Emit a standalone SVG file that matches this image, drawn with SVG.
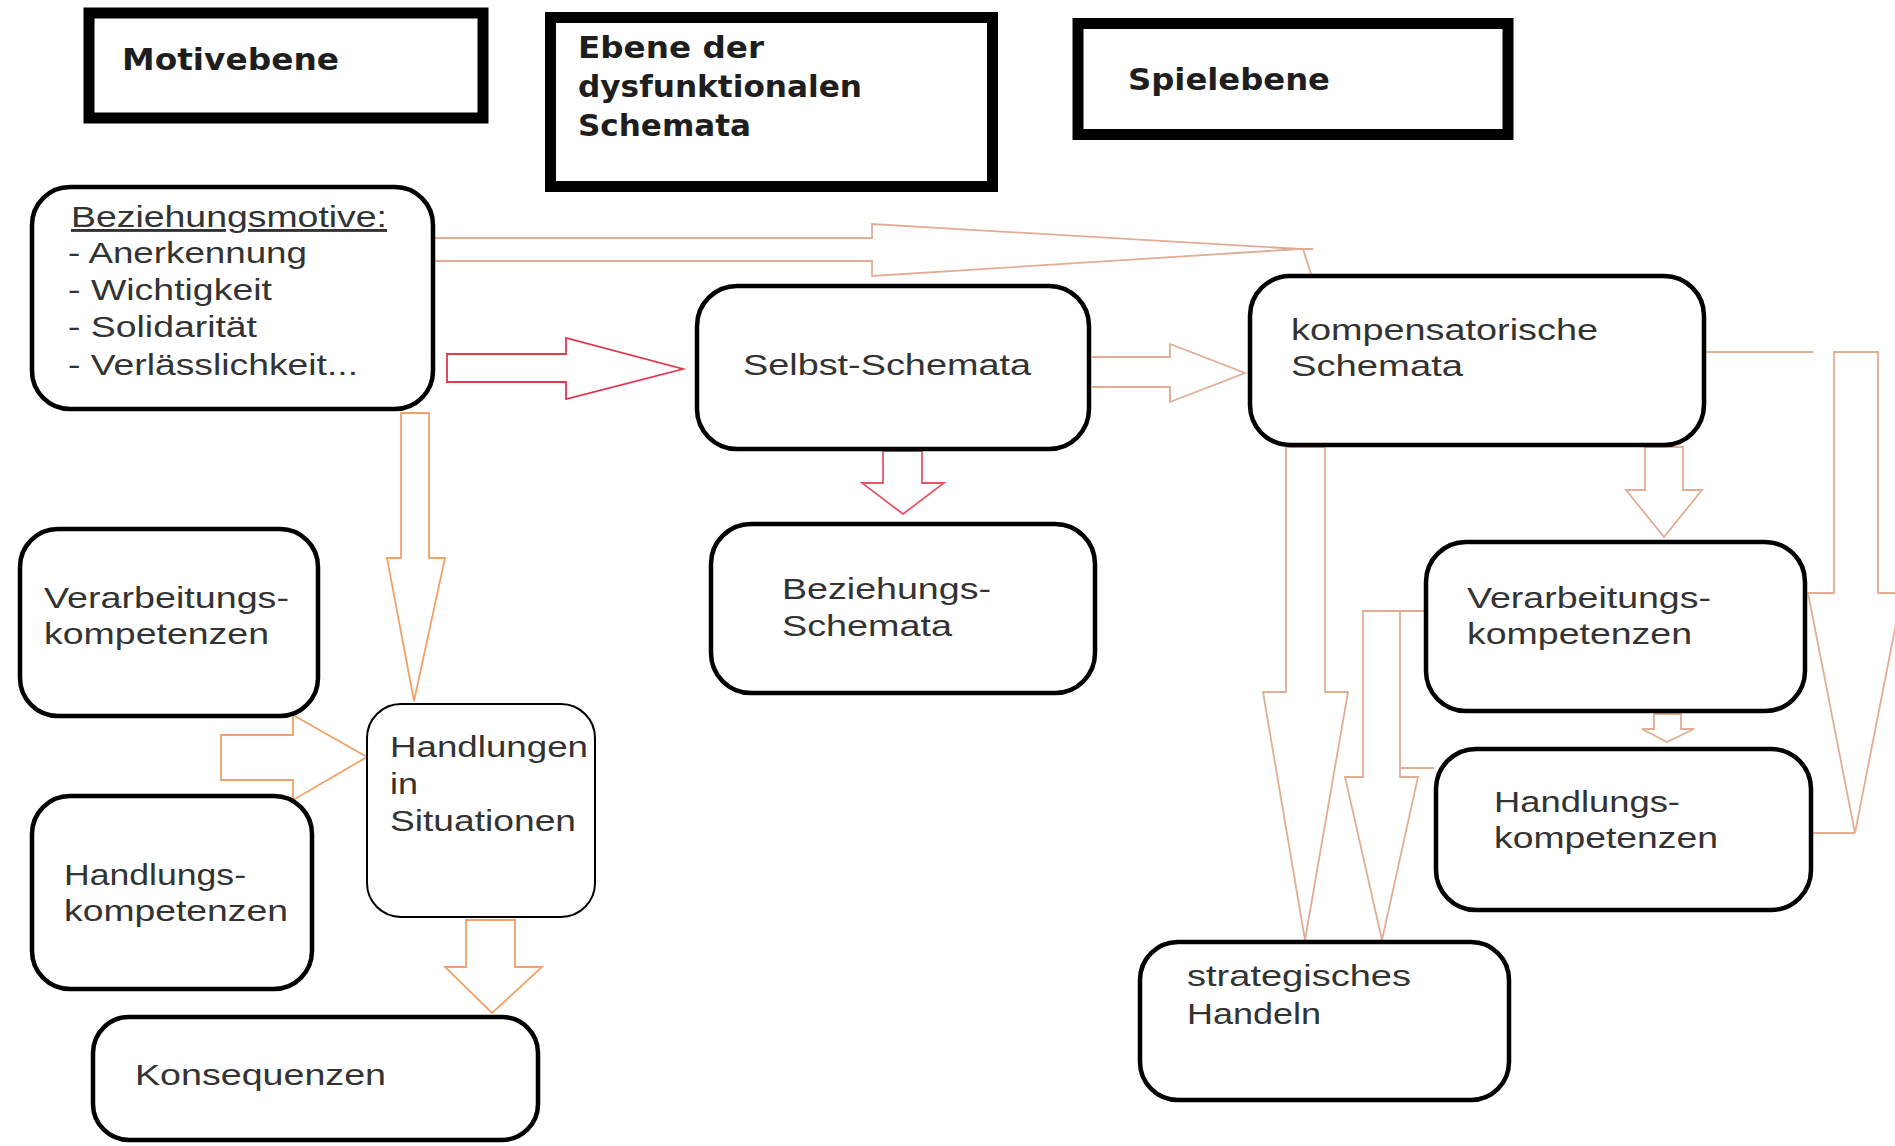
<svg xmlns="http://www.w3.org/2000/svg" width="1895" height="1146" viewBox="0 0 1895 1146">
<style>
.hdr{fill:#fff;stroke:#000;stroke-width:11}
.hdt{font-family:"DejaVu Sans",Verdana,sans-serif;font-weight:bold;font-size:30px;fill:#1e1e1e}
.box{fill:#fff;stroke:#000;stroke-width:4.5}
.thin{fill:#fff;stroke:#000;stroke-width:2}
.t{font-family:"Liberation Sans",Arial,sans-serif;font-size:29px;fill:#333}
.pe{fill:none;stroke:#e3ad93;stroke-width:1.8;stroke-linejoin:miter}
.or{fill:none;stroke:#f2a268;stroke-width:1.8}
.rd{fill:none;stroke:#e0384f;stroke-width:1.8}
.pk{fill:none;stroke:#e4566a;stroke-width:1.8}
</style>
<rect width="1895" height="1146" fill="#fff"/>

<g id="connectors">
  <path class="pe" d="M435,238 L872,238 L872,224 L1300,249 L872,276 L872,261 L435,261"/>
  <path class="pe" d="M1282,249 L1313,249 M1303,249 L1311,274"/>
  <polygon class="rd" points="566,354 447,354 447,382 566,382 566,399 683,369 566,338"/>
  <path class="pe" d="M1092,357 L1170,357 L1170,344 L1245,373 L1170,402 L1170,387 L1092,387"/>
  <polygon class="pk" points="883,451 883,483 862,483 903,514 944,483 922,483 922,451"/>
  <polygon class="or" points="401,413 401,558 387,558 414,701 445,558 429,558 429,413"/>
  <polygon class="or" points="221,735 293,735 293,715 367,757 293,800 293,780 221,780"/>
  <polygon class="or" points="466,920 466,967 445,967 492,1013 542,967 515,967 515,920"/>
  <polygon class="pe" points="1645,447 1645,490 1626,490 1664,537 1702,490 1683,490 1683,447"/>
  <polygon class="pe" points="1654,714 1654,729 1642,729 1667,742 1694,729 1681,729 1681,714"/>
  <polygon class="pe" points="1286,447 1286,692 1263,692 1305,940 1348,692 1325,692 1325,447"/>
  <path class="pe" d="M1425,611 L1363,611 L1363,777 L1345,777 L1382,940 L1418,777 L1400,777 L1400,611 M1400,768 L1434,768"/>
  <path class="pe" d="M1706,352 L1813,352"/>
  <polygon class="pe" points="1834,352 1834,593 1808,593 1855,833 1902,593 1878,593 1878,352"/>
  <path class="pe" d="M1813,833 L1855,833"/>
</g>

<g id="motivebene">
  <rect class="hdr" x="89" y="13" width="394" height="105"/>
  <text class="hdt" x="122" y="70" textLength="217" lengthAdjust="spacingAndGlyphs">Motivebene</text>
</g>
<g id="ebene-dysfunktional">
  <rect class="hdr" x="550.5" y="17.5" width="442" height="169"/>
  <text class="hdt" x="578" y="58" textLength="186" lengthAdjust="spacingAndGlyphs">Ebene der</text>
  <text class="hdt" x="578" y="97" textLength="284" lengthAdjust="spacingAndGlyphs">dysfunktionalen</text>
  <text class="hdt" x="578" y="136" textLength="173" lengthAdjust="spacingAndGlyphs">Schemata</text>
</g>
<g id="spielebene">
  <rect class="hdr" x="1078" y="23.5" width="430" height="111"/>
  <text class="hdt" x="1128" y="90" textLength="202" lengthAdjust="spacingAndGlyphs">Spielebene</text>
</g>

<g id="beziehungsmotive">
  <rect class="box" x="32" y="187" width="401" height="222" rx="38"/>
  <text class="t" x="71" y="227" textLength="316" lengthAdjust="spacingAndGlyphs" text-decoration="underline">Beziehungsmotive:</text>
  <text class="t" x="68" y="263" textLength="239" lengthAdjust="spacingAndGlyphs">- Anerkennung</text>
  <text class="t" x="68" y="300" textLength="204" lengthAdjust="spacingAndGlyphs">- Wichtigkeit</text>
  <text class="t" x="68" y="337" textLength="189" lengthAdjust="spacingAndGlyphs">- Solidarität</text>
  <text class="t" x="68" y="375" textLength="290" lengthAdjust="spacingAndGlyphs">- Verlässlichkeit...</text>
</g>
<g id="selbst-schemata">
  <rect class="box" x="697" y="286" width="392" height="163" rx="40"/>
  <text class="t" x="743" y="375" textLength="288" lengthAdjust="spacingAndGlyphs">Selbst-Schemata</text>
</g>
<g id="kompensatorische-schemata">
  <rect class="box" x="1250" y="276" width="454" height="169" rx="40"/>
  <text class="t" x="1291" y="340" textLength="307" lengthAdjust="spacingAndGlyphs">kompensatorische</text>
  <text class="t" x="1291" y="376" textLength="172" lengthAdjust="spacingAndGlyphs">Schemata</text>
</g>
<g id="beziehungs-schemata">
  <rect class="box" x="711" y="524" width="384" height="169" rx="40"/>
  <text class="t" x="782" y="599" textLength="209" lengthAdjust="spacingAndGlyphs">Beziehungs-</text>
  <text class="t" x="782" y="636" textLength="170" lengthAdjust="spacingAndGlyphs">Schemata</text>
</g>
<g id="verarbeitung-links">
  <rect class="box" x="20" y="529" width="298" height="187" rx="38"/>
  <text class="t" x="44" y="608" textLength="245" lengthAdjust="spacingAndGlyphs">Verarbeitungs-</text>
  <text class="t" x="44" y="644" textLength="225" lengthAdjust="spacingAndGlyphs">kompetenzen</text>
</g>
<g id="handlung-links">
  <rect class="box" x="32" y="796" width="280" height="193" rx="38"/>
  <text class="t" x="64" y="885" textLength="182" lengthAdjust="spacingAndGlyphs">Handlungs-</text>
  <text class="t" x="64" y="921" textLength="224" lengthAdjust="spacingAndGlyphs">kompetenzen</text>
</g>
<g id="handlungen-situationen">
  <rect class="thin" x="367" y="704" width="228" height="213" rx="34"/>
  <text class="t" x="390" y="757" textLength="198" lengthAdjust="spacingAndGlyphs">Handlungen</text>
  <text class="t" x="390" y="794" textLength="28" lengthAdjust="spacingAndGlyphs">in</text>
  <text class="t" x="390" y="831" textLength="186" lengthAdjust="spacingAndGlyphs">Situationen</text>
</g>
<g id="konsequenzen">
  <rect class="box" x="93" y="1017" width="445" height="123" rx="36"/>
  <text class="t" x="135" y="1085" textLength="251" lengthAdjust="spacingAndGlyphs">Konsequenzen</text>
</g>
<g id="verarbeitung-rechts">
  <rect class="box" x="1426" y="542" width="379" height="169" rx="40"/>
  <text class="t" x="1467" y="608" textLength="244" lengthAdjust="spacingAndGlyphs">Verarbeitungs-</text>
  <text class="t" x="1467" y="644" textLength="225" lengthAdjust="spacingAndGlyphs">kompetenzen</text>
</g>
<g id="handlung-rechts">
  <rect class="box" x="1436" y="749" width="375" height="161" rx="40"/>
  <text class="t" x="1494" y="812" textLength="186" lengthAdjust="spacingAndGlyphs">Handlungs-</text>
  <text class="t" x="1494" y="848" textLength="224" lengthAdjust="spacingAndGlyphs">kompetenzen</text>
</g>
<g id="strategisches-handeln">
  <rect class="box" x="1140" y="942" width="369" height="158" rx="38"/>
  <text class="t" x="1187" y="986" textLength="224" lengthAdjust="spacingAndGlyphs">strategisches</text>
  <text class="t" x="1187" y="1024" textLength="134" lengthAdjust="spacingAndGlyphs">Handeln</text>
</g>
</svg>
